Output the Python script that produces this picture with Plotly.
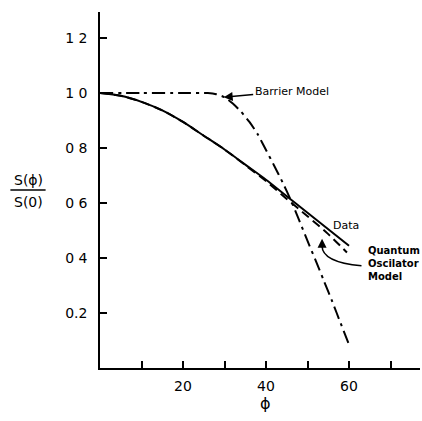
import plotly.graph_objects as go

# Data
phi_data = [0, 5, 10, 15, 20, 25, 30, 35, 40, 45, 50, 55, 60]
s_data = [1.0, 0.99, 0.968, 0.937, 0.895, 0.845, 0.795, 0.74, 0.685, 0.625, 0.565, 0.505, 0.445]

phi_qo = [0, 5, 10, 15, 20, 25, 30, 35, 40, 45, 50, 55, 59.5]
s_qo = [1.0, 0.99, 0.968, 0.937, 0.895, 0.845, 0.795, 0.738, 0.68, 0.615, 0.552, 0.487, 0.42]

phi_barrier = [0, 10, 20, 26, 28, 30, 32, 34, 36, 38, 40, 42, 44, 46, 48, 50, 52, 54, 56, 58, 60]
s_barrier = [1.0, 1.0, 1.0, 1.0, 0.996, 0.985, 0.962, 0.932, 0.895, 0.85, 0.793, 0.735, 0.675, 0.61, 0.537, 0.462, 0.39, 0.315, 0.24, 0.162, 0.085]

x_tickvals = [10, 20, 30, 40, 50, 60, 70]
x_ticktext = ["", "20", "", "40", "", "60", ""]
y_tickvals = [0.2, 0.4, 0.6, 0.8, 1.0, 1.2]
y_ticktext = ["0.2", "0 4", "0 6", "0 8", "1 0", "1 2"]

FONT = "DejaVu Sans"

fig = go.Figure()
fig.add_trace(go.Scatter(x=phi_data, y=s_data, mode="lines", line=dict(color="black", width=2, shape="spline", smoothing=0.8), name="Data"))
fig.add_trace(go.Scatter(x=phi_qo, y=s_qo, mode="lines", line=dict(color="black", width=2, dash="9px,5px", shape="spline", smoothing=0.8), name="Quantum Oscilator Model"))
fig.add_trace(go.Scatter(x=phi_barrier, y=s_barrier, mode="lines", line=dict(color="black", width=2, dash="13px,5px,3px,5px", shape="spline", smoothing=0.6), name="Barrier Model"))

fig.update_layout(
    width=422, height=421, autosize=False,
    margin=dict(l=100, r=2, t=12, b=53),
    paper_bgcolor="white", plot_bgcolor="white",
    showlegend=False,
    font=dict(family=FONT, color="black", size=14),
    xaxis=dict(range=[0, 77.1], showgrid=False, zeroline=False, showline=True, linecolor="black", linewidth=1.5,
               ticks="inside", ticklen=7, tickwidth=1.5, tickcolor="black",
               tickvals=x_tickvals, ticktext=x_ticktext, ticklabelstandoff=4,
               tickfont=dict(size=14, family=FONT)),
    yaxis=dict(range=[0, 1.295], showgrid=False, zeroline=False, showline=True, linecolor="black", linewidth=1.5,
               ticks="inside", ticklen=7, tickwidth=1.5, tickcolor="black",
               tickvals=y_tickvals, ticktext=y_ticktext, ticklabelstandoff=8,
               tickfont=dict(size=14, family=FONT)),
)

# y-axis label as fraction
fig.add_annotation(text="S(ϕ)", xref="paper", yref="paper", x=-0.225, y=0.5, yanchor="bottom", xanchor="center",
                   showarrow=False, font=dict(size=14, family=FONT))
fig.add_annotation(text="S(0)", xref="paper", yref="paper", x=-0.225, y=0.495, yanchor="top", xanchor="center",
                   showarrow=False, font=dict(size=14, family=FONT))
fig.add_shape(type="line", xref="paper", yref="paper", x0=-0.28, x1=-0.17, y0=0.5, y1=0.5,
              line=dict(color="black", width=1.5))

# x-axis title
fig.add_annotation(text="ϕ", xref="x", yref="paper", x=39.8, y=-0.1, yanchor="middle", showarrow=False,
                   font=dict(size=16, family=FONT))

# Barrier Model label with arrow
fig.add_annotation(text="Barrier Model", x=29.8, y=0.985, ax=68, ay=-6, axref="pixel", ayref="pixel",
                   xanchor="center", showarrow=True, arrowhead=2, arrowsize=1.2, arrowwidth=1.5,
                   arrowcolor="black", font=dict(size=11, family=FONT), standoff=0)

# Data label
fig.add_annotation(text="Data", x=59.3, y=0.52, showarrow=False, xanchor="center",
                   font=dict(size=11, family=FONT))

# Quantum Oscilator Model label
fig.add_annotation(text="<b>Quantum<br>Oscilator<br>Model</b>", xref="paper", yref="y", x=0.83, y=0.38,
                   xanchor="left", yanchor="middle", align="left", showarrow=False,
                   font=dict(size=10, family=FONT))
# curved pointer
fig.add_shape(type="path", path="M 63.0,0.372 Q 53.5,0.385 53.5,0.445", line=dict(color="black", width=1.5))
fig.add_annotation(text="", x=53.5, y=0.47, ax=0, ay=10, axref="pixel", ayref="pixel",
                   showarrow=True, arrowhead=2, arrowsize=1.2, arrowwidth=1.5, arrowcolor="black")

fig.write_html("out.html", config={"displayModeBar": False},
               post_script="document.body.style.margin='0';document.body.style.padding='0';")
